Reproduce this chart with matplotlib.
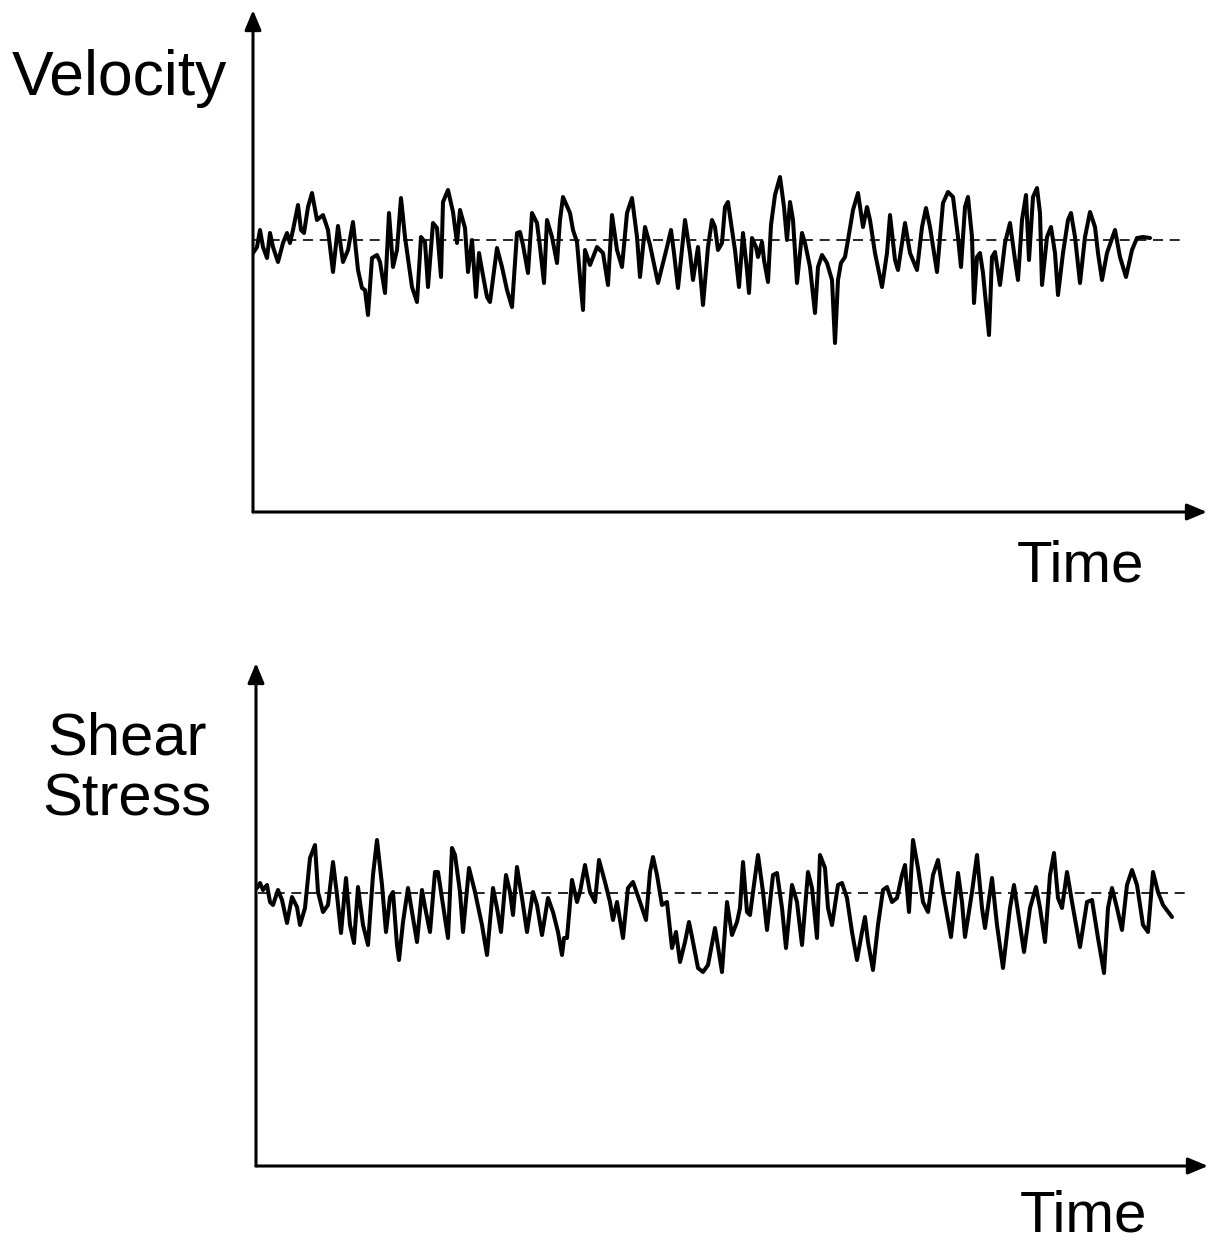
import matplotlib
matplotlib.use("Agg")
import matplotlib.pyplot as plt

# ---------------- data (arbitrary units) ----------------
vel_time = [0, 4, 7, 10, 14, 17, 20, 25, 30, 34, 37, 40, 45, 48, 51, 55, 59, 64, 70, 75,
            80, 85, 90, 95, 100, 105, 109, 112, 115, 119, 124, 127, 132, 136, 140, 144, 148, 152, 159, 164,
            168, 172, 175, 180, 184, 188, 190, 195, 200, 204, 207, 212, 215, 219, 223, 226, 229, 234, 237, 244,
            249, 254, 259, 264, 267, 270, 275, 279, 284, 287, 291, 294, 299, 304, 307, 310, 317, 320, 324, 327,
            330, 332, 337, 344, 347, 350, 355, 359, 364, 369, 374, 379, 384, 387, 392, 397, 405, 414, 418, 421,
            425, 432, 437, 440, 445, 450, 455, 459, 462, 465, 469, 472, 475, 479, 482, 486, 490, 494, 496, 499,
            503, 505, 509, 511, 515, 518, 522, 527, 531, 534, 537, 540, 544, 549, 552, 557, 562, 565, 569, 574,
            579, 582, 585, 588, 592, 595, 600, 605, 610, 614, 617, 622, 629, 634, 637, 642, 645, 652, 657, 664,
            669, 673, 677, 684, 690, 695, 700, 705, 708, 712, 715, 719, 721, 724, 727, 730, 736, 739, 742, 747,
            752, 757, 762, 765, 769, 773, 776, 780, 784, 787, 789, 794, 798, 802, 805, 810, 815, 818, 822, 827,
            832, 837, 842, 845, 849, 854, 862, 867, 873, 879, 884, 890, 897]
velocity = [-13, -7, 10, -7, -18, 7, -7, -22, -3, 7, -3, 10, 35, 10, 7, 33, 47, 20, 25, 10,
            -32, 14, -22, -10, 18, -30, -48, -50, -75, -18, -15, -22, -53, 27, -27, -10, 42, 3, -47, -62,
            3, -2, -47, 17, 12, -37, 38, 50, 28, -3, 30, 12, -32, 0, -57, -13, -30, -57, -62, -8,
            -27, -50, -67, 7, 8, -5, -33, 27, 17, -7, -43, 20, 3, -23, 20, 43, 27, 10, -2, -37,
            -70, -10, -25, -7, -10, -13, -45, 25, -10, -27, 27, 42, 3, -37, 13, -5, -43, -7, 10, -13,
            -48, 20, -13, -40, -7, -65, -7, 20, 13, -10, -3, 33, 38, 10, -10, -47, 7, -30, -53, 2,
            -7, -17, -2, -20, -42, 15, 45, 63, 33, 0, 38, 20, -43, 7, -3, -27, -73, -27, -15, -23,
            -40, -103, -40, -23, -17, 0, 30, 47, 13, 33, 20, -13, -47, -13, 25, -20, -30, 17, -13, -30,
            13, 32, 13, -32, 37, 48, 43, 3, -27, 33, 43, 3, -63, -17, -13, -33, -95, -17, -12, -45,
            -3, 17, -20, -40, 20, 45, -20, 43, 52, 27, -45, 3, 13, -13, -55, -13, 20, 27, 3, -43,
            3, 28, 13, -13, -40, -13, 10, -17, -37, -10, 2, 3, 2]
vel_mean_span = [0, 930]

stress_time = [1, 4, 7, 11, 14, 17, 22, 26, 31, 36, 41, 44, 49, 54, 59, 62, 67, 72, 77, 81,
               85, 90, 94, 98, 102, 107, 112, 117, 121, 126, 130, 134, 137, 141, 143, 147, 152, 157, 161, 166,
               169, 174, 179, 182, 187, 192, 196, 199, 204, 207, 213, 219, 226, 231, 237, 241, 245, 250, 254, 257,
               261, 266, 271, 277, 281, 286, 292, 297, 302, 306, 308, 311, 316, 321, 324, 329, 334, 339, 343, 349,
               354, 357, 361, 367, 372, 377, 384, 390, 394, 397, 401, 406, 411, 416, 420, 424, 429, 433, 437, 442,
               447, 452, 459, 466, 471, 476, 481, 484, 487, 491, 494, 497, 502, 507, 511, 517, 521, 526, 530, 536,
               541, 546, 552, 556, 561, 564, 569, 572, 576, 582, 586, 591, 596, 601, 606, 609, 612, 617, 622, 627,
               631, 636, 641, 646, 649, 653, 657, 662, 667, 672, 677, 682, 687, 695, 702, 706, 709, 716, 721, 726,
               729, 736, 741, 747, 754, 758, 764, 768, 774, 780, 784, 789, 794, 798, 802, 806, 811, 816, 824, 831,
               836, 842, 848, 852, 856, 861, 866, 871, 876, 881, 887, 892, 897, 902, 907, 916]
shear_stress = [5, 10, 3, 8, -9, -12, 3, -7, -30, -4, -14, -32, -15, 35, 48, 1, -19, -12, 31, -2,
                -40, 15, -32, -50, 6, -32, -52, 18, 53, 8, -39, -4, 1, -52, -67, -29, 5, -25, -49, 3,
                -14, -39, 21, 21, -12, -45, 45, 38, 1, -39, 25, 1, -32, -62, 5, -15, -39, 18, 1, -22,
                26, -5, -39, 1, -12, -42, -5, -19, -39, -62, -45, -45, 13, -9, 1, 28, 1, -9, 33, 11,
                -9, -27, -9, -45, 5, 11, -9, -27, 21, 36, 18, -12, -9, -55, -39, -69, -49, -29, -49, -75,
                -79, -72, -35, -79, -9, -42, -29, -15, 31, -19, -22, 1, 38, 1, -37, 18, 20, -15, -55, 8,
                -9, -52, 21, 5, -45, 38, 25, -15, -32, 8, 10, -5, -39, -67, -39, -24, -49, -77, -32, 3,
                6, -9, -5, 18, 28, -19, 53, 25, -9, -19, 18, 33, 1, -44, 20, -9, -44, 1, 38, -15,
                -35, 15, -32, -75, -15, 8, -32, -59, -15, 6, -15, -49, 18, 40, -5, -15, 21, -9, -54, -9,
                -7, -45, -80, -15, 5, -15, -37, 8, 23, 8, -32, -39, 21, 1, -12, -24]
stress_mean_span = [2, 934]

vel_label = "Velocity"
stress_label = "Shear\nStress"
time_label = "Time"

# ---------------- figure ----------------
W, H = 1210, 1245
fig = plt.figure(figsize=(W / 100, H / 100), dpi=100)
fig.patch.set_facecolor("white")

FONT = ["Liberation Sans", "DejaVu Sans"]


def make_axes(left_px, right_px, top_px, bottom_px):
    ax = fig.add_axes([left_px / W, 1 - bottom_px / H,
                       (right_px - left_px) / W, (bottom_px - top_px) / H])
    for s in ax.spines.values():
        s.set_visible(False)
    ax.set_xticks([])
    ax.set_yticks([])
    ax.patch.set_alpha(0)
    arrow = dict(arrowstyle="-|>,head_length=0.6,head_width=0.25", lw=2.2,
                 color="black", shrinkA=0, shrinkB=0, mutation_scale=20)
    ax.annotate("", xy=(0, 1), xytext=(0, 0), xycoords="axes fraction",
                arrowprops=arrow, annotation_clip=False)
    ax.annotate("", xy=(1, 0), xytext=(0, 0), xycoords="axes fraction",
                arrowprops=arrow, annotation_clip=False)
    return ax


# upper panel
ax1 = make_axes(253, 1207, 10, 512)
ax1.set_xlim(0, 954)
ax1.set_ylim(-272, 230)
ax1.plot(vel_mean_span, [0, 0], color="black", lw=1.2, dashes=(6, 4))
ax1.plot(vel_time, velocity, color="black", lw=2.9, solid_joinstyle="round",
         solid_capstyle="round")

# lower panel
ax2 = make_axes(256, 1208, 663, 1166)
ax2.set_xlim(0, 952)
ax2.set_ylim(-273, 230)
ax2.plot(stress_mean_span, [0, 0], color="black", lw=1.2, dashes=(6, 4))
ax2.plot(stress_time, shear_stress, color="black", lw=2.9, solid_joinstyle="round",
         solid_capstyle="round")

# labels
fig.text(12 / W, 1 - 95 / H, vel_label, fontsize=45, family=FONT,
         ha="left", va="baseline")
fig.text(1017 / W, 1 - 582 / H, time_label, fontsize=42, family=FONT,
         ha="left", va="baseline")
fig.text(127 / W, 1 - 815 / H, stress_label, fontsize=43, family=FONT,
         ha="center", va="baseline", linespacing=1.12, multialignment="center")
fig.text(1020 / W, 1 - 1231 / H, time_label, fontsize=42, family=FONT,
         ha="left", va="baseline")

fig.savefig("out.png", dpi=100, facecolor="white")
